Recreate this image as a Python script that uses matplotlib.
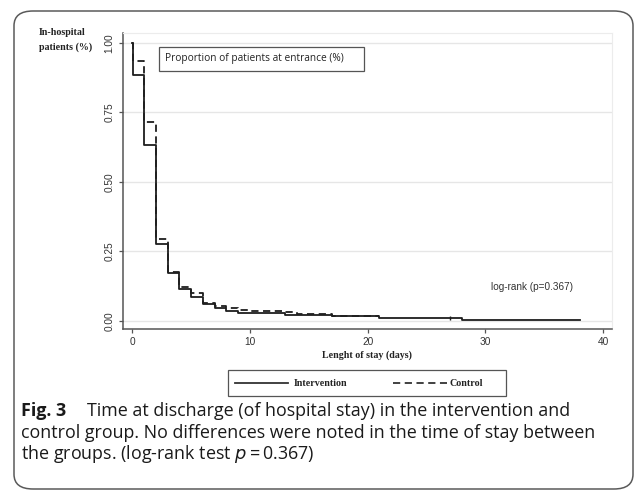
import numpy as np
import matplotlib.pyplot as plt
from matplotlib.patches import Rectangle, FancyBboxPatch
from matplotlib.lines import Line2D

# Kaplan-Meier style data (days, proportion still in hospital)
t_int = [0, 0.03, 0.06, 0.1, 1, 2, 3, 4, 5, 6, 7, 8, 9, 10, 13, 17, 21, 28, 38]
s_int = [1.0, 0.985, 0.965, 0.885, 0.633, 0.278, 0.172, 0.115, 0.087, 0.060,
         0.045, 0.035, 0.030, 0.027, 0.022, 0.018, 0.011, 0.005, 0.005]
cens_t_int = [27]
cens_s_int = [0.011]

t_ctl = [0, 0.1, 1, 2, 3, 4, 5, 6, 7, 8, 9, 10, 13, 14, 17, 21]
s_ctl = [1.0, 0.935, 0.717, 0.295, 0.175, 0.122, 0.100, 0.065, 0.052, 0.046,
         0.040, 0.037, 0.032, 0.025, 0.018, 0.018]

x_ticks = [0, 10, 20, 30, 40]
y_ticks = [0.0, 0.25, 0.5, 0.75, 1.0]
y_ticklabels = ['0.00', '0.25', '0.50', '0.75', '1.00']
series_labels = ['Intervention', 'Control']

W, H = 637, 490


def fx(x):
    return x / W


def fy(y):
    return 1 - y / H


fig = plt.figure(figsize=(W / 100, H / 100), dpi=100)

# card border
card = FancyBboxPatch((fx(14), fy(489)), fx(633) - fx(14), fy(11) - fy(489),
                      boxstyle='round,pad=0,rounding_size=0.03',
                      transform=fig.transFigure, fill=False,
                      edgecolor='#5a5a5a', linewidth=1.1)
fig.patches.append(card)

ax = fig.add_axes([fx(123), fy(329), fx(612) - fx(123), fy(33) - fy(329)])
ax.set_xlim(-0.78, 40.75)
ax.set_ylim(-0.029, 1.036)

ax.step(t_int, s_int, where='post', color='#1e1e1e', lw=1.3)
ax.step(t_ctl, s_ctl, where='post', color='#1e1e1e', lw=1.3,
        linestyle=(0, (4, 2.5)))
ax.plot(cens_t_int, cens_s_int, linestyle='none', marker='|', ms=3,
        color='#1e1e1e', mew=1)

ax.set_yticks(y_ticks)
ax.set_yticklabels(y_ticklabels, rotation=90, va='center')
ax.set_xticks(x_ticks)
ax.grid(axis='y', color='#e6e6e6', lw=1)
ax.set_axisbelow(True)
for side in ['top', 'right']:
    ax.spines[side].set_color('#ececec')
for side in ['left', 'bottom']:
    ax.spines[side].set_color('#555555')
    ax.spines[side].set_linewidth(1.1)
ax.tick_params(axis='both', labelsize=7.3, colors='#555555', labelcolor='#333333',
               length=3, width=0.9, pad=3)
for lab in ax.get_xticklabels() + ax.get_yticklabels():
    lab.set_family('Liberation Sans')

ax.set_xlabel('Lenght of stay (days)', family='Liberation Serif',
              fontweight='bold', fontsize=7.2, color='#222222', labelpad=2)

fig.text(fx(39), fy(40), 'In-hospital\npatients (%)', family='Liberation Serif',
         fontweight='bold', fontsize=7.2, color='#222222', va='center',
         linespacing=1.75)

# text box
fig.patches.append(Rectangle((fx(159), fy(71)), fx(364) - fx(159), fy(47) - fy(71),
                             transform=fig.transFigure, fill=False,
                             edgecolor='#555555', linewidth=0.9))
fig.text(fx(165), fy(58), 'Proportion of patients at entrance (%)',
         family='Open Sans', fontsize=7.3, color='#222222', va='center')

fig.text(fx(491), fy(287), 'log-rank (p=0.367)', family='Liberation Sans',
         fontsize=7.2, color='#333333', va='center')

# legend box
fig.patches.append(Rectangle((fx(228), fy(396)), fx(506) - fx(228), fy(370) - fy(396),
                             transform=fig.transFigure, fill=False,
                             edgecolor='#555555', linewidth=0.9))
fig.add_artist(Line2D([fx(235), fx(288)], [fy(383), fy(383)], color='#333333',
                      lw=1.3, transform=fig.transFigure))
fig.add_artist(Line2D([fx(393), fx(447)], [fy(383), fy(383)], color='#333333',
                      lw=1.3, linestyle=(0, (4, 2.5)), transform=fig.transFigure))
fig.text(fx(294), fy(383), series_labels[0], family='Liberation Serif',
         fontweight='bold', fontsize=7.2, color='#222222', va='center')
fig.text(fx(450), fy(384), series_labels[1], family='Liberation Serif',
         fontweight='bold', fontsize=7.2, color='#222222', va='center')

# caption
cap_kw = dict(family='Open Sans', fontsize=12.9, color='#1a1a1a', va='baseline')
fig.text(fx(21), fy(416), 'Fig. 3', fontweight='bold', **cap_kw)
fig.text(fx(87), fy(416), 'Time at discharge (of hospital stay) in the intervention and',
         **cap_kw)
fig.text(fx(21), fy(438),
         'control group. No differences were noted in the time of stay between',
         **cap_kw)
fig.text(fx(21), fy(459), 'the groups. (log-rank test $p$\u2009=\u20090.367)', **cap_kw)

fig.savefig('out.png', dpi=100)
